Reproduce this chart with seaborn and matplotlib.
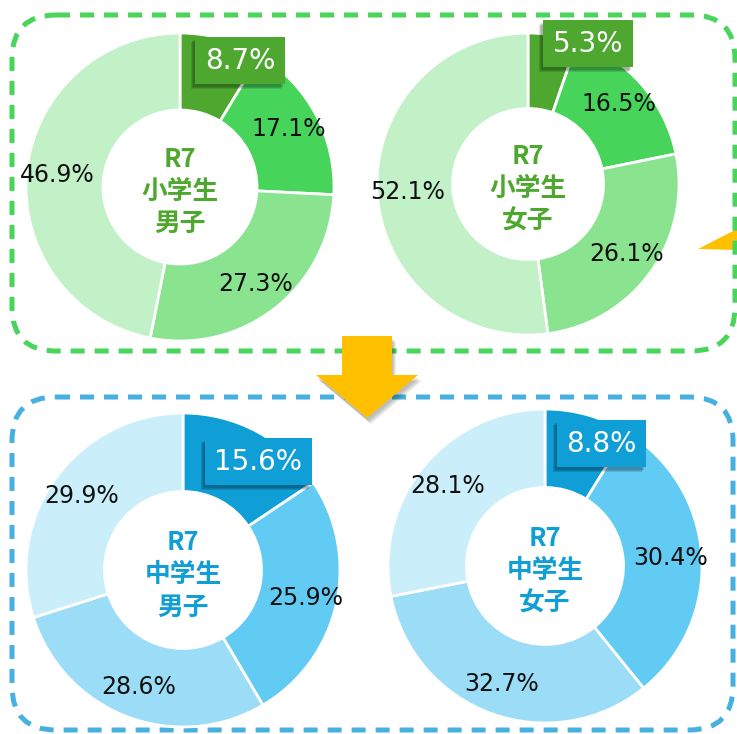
import seaborn as sns
import matplotlib
matplotlib.use("Agg")
import matplotlib.pyplot as plt
import matplotlib.patheffects as pe
import matplotlib.transforms as mtransforms
from matplotlib.patches import FancyBboxPatch, Polygon, Rectangle
import numpy as np

# データ (R7 アンケート割合 %)
titles = ["R7\n小学生\n男子", "R7\n小学生\n女子", "R7\n中学生\n男子", "R7\n中学生\n女子"]
sho_danshi = [8.7, 17.1, 27.3, 46.9]
sho_joshi = [5.3, 16.5, 26.1, 52.1]
chu_danshi = [15.6, 25.9, 28.6, 29.9]
chu_joshi = [8.8, 30.4, 32.7, 28.1]

green = ['#4ea72e', '#47d45a', '#8ae48f', '#c2f0c7']
blue = ['#0f9ed5', '#61cbf3', '#9bdcf7', '#cbeefb']

sns.set_theme(style="white")
plt.rcParams['font.family'] = ['DejaVu Sans', 'Noto Sans CJK JP']

W, H = 737, 734
fig = plt.figure(figsize=(W / 100, H / 100), dpi=100, facecolor="white")

# 背景(点線の枠と矢印) ピクセル座標
bg = fig.add_axes([0, 0, 1, 1])
bg.set_xlim(0, W)
bg.set_ylim(H, 0)
bg.axis('off')

for (x0, y0, x1, y1), col in [((12, 15, 735, 351), '#47d55b'),
                              ((12, 397, 733, 730), '#46b1e1')]:
    bg.add_patch(FancyBboxPatch((x0, y0), x1 - x0, y1 - y0,
                                boxstyle="round,pad=0,rounding_size=44",
                                fill=False, ec=col, lw=3.6,
                                ls=(0, (2.8, 2.0)), zorder=2))

# 右端の三角(切れている)
bg.add_patch(Polygon([(698, 249), (737, 229), (737, 250)], closed=True,
                     fc='#ffc000', ec='none', zorder=1))

# 下向き矢印 (ぼかし影つき)
arrow_pts = np.array([(342, 336), (392, 336), (392, 375), (418, 375), (367, 418),
                      (316, 375), (342, 375)], dtype=float)
for k in range(4):
    bg.add_patch(Polygon(arrow_pts + [1 + k, 3 + k], closed=True,
                         fc=(0, 0, 0, 0.07), ec='none', zorder=2.5))
bg.add_patch(Polygon(arrow_pts, closed=True, fc='#ffc000', ec='none', zorder=3))

# ドーナツ: (中心x, 中心y, 半径) と強調ラベルの位置
layout = [(180, 187, 154, (0.39, 0.82)),
          (528, 184, 151, (0.40, 0.93)),
          (183, 570, 157, (0.48, 0.69)),
          (545, 566, 157, (0.36, 0.78))]
datasets = [sho_danshi, sho_joshi, chu_danshi, chu_joshi]
palettes = [green, green, blue, blue]
highlights = []


def draw_donut(values, colors, title, cx, cy, R, hl):
    ax = fig.add_axes([(cx - R) / W, 1 - (cy + R) / H, 2 * R / W, 2 * R / H])
    ax.pie(values, colors=colors, startangle=90, counterclock=False, radius=1,
           wedgeprops=dict(width=0.5, edgecolor='white', linewidth=2))
    ax.set_xlim(-1, 1)
    ax.set_ylim(-1, 1)
    ax.axis('off')

    cum = np.cumsum([0] + values)
    for i, v in enumerate(values):
        if i == 0:
            t = ax.text(hl[0], hl[1], f"{v}%", ha='center', va='center',
                        color='white', fontsize=20, zorder=10, clip_on=False,
                        bbox=dict(boxstyle='square,pad=0.35', fc=colors[0], ec='none'))
            highlights.append((ax, t))
            continue
        mid = (cum[i] + cum[i + 1]) / 2
        ang = np.deg2rad(90 - 360 * mid / 100)
        ax.text(0.8 * np.cos(ang), 0.8 * np.sin(ang), f"{v}%", ha='center',
                va='center', fontsize=17, color='#111111')

    ax.text(0, -0.03, title, ha='center', va='center', fontsize=18.5,
            color=colors[0], fontweight='bold', linespacing=1.25,
            family=['Noto Sans CJK JP', 'DejaVu Sans'])


for vals, cols, title, (cx, cy, R, hl) in zip(datasets, palettes, titles, layout):
    draw_donut(vals, cols, title, cx, cy, R, hl)

# 強調ラベルの影 (左下方向)
fig.canvas.draw()
for ax, t in highlights:
    bb = t.get_bbox_patch().get_window_extent()
    for k in range(3):
        ax.add_patch(Rectangle((bb.x0 - 2 - k, bb.y0 - 3 - k), bb.width, bb.height,
                               transform=mtransforms.IdentityTransform(),
                               fc=(0, 0, 0, 0.12), ec='none', zorder=9, clip_on=False))

fig.savefig("out.png", dpi=100, facecolor="white")
